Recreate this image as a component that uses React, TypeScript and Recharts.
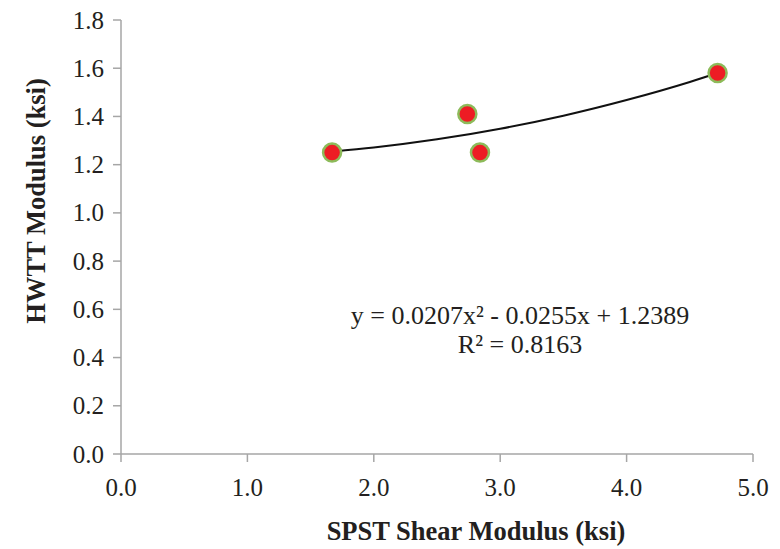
import { ComposedChart, Scatter, Line, XAxis, YAxis } from 'recharts'

// measured samples (SPST shear vs HWTT modulus, ksi)
const spstShear = [1.67, 2.74, 2.84, 4.72]
const hwttModulus = [1.25, 1.41, 1.25, 1.58]

// polynomial trendline
const trendX = [1.67, 2.0, 2.5, 3.0, 3.5, 4.0, 4.5, 4.72]
const trendY = [1.254, 1.271, 1.305, 1.349, 1.403, 1.468, 1.543, 1.58]

const xTicks = [0, 1, 2, 3, 4, 5]
const yTicks = [0, 0.2, 0.4, 0.6, 0.8, 1.0, 1.2, 1.4, 1.6, 1.8]

const equation = 'y = 0.0207x² - 0.0255x + 1.2389'
const rSquared = 'R² = 0.8163'
const xTitle = 'SPST Shear Modulus (ksi)'
const yTitle = 'HWTT Modulus (ksi)'

const points = spstShear.map((x, i) => ({ x, y: hwttModulus[i] }))
const trend = trendX.map((x, i) => ({ x, y: trendY[i] }))

const font = '"Liberation Serif", "Times New Roman", serif'
const axisGray = '#a6a6a6'
const textColor = '#231f20'

const Dot = (props: any) => (
  <circle cx={props.cx} cy={props.cy} r={9} fill="#ed1c24" stroke="#8dbb5a" strokeWidth={2.5} />
)

const renderXTick = (p: any) => (
  <g key={`xt-${p.index}`}>
    <text
      x={p.x}
      y={p.y + 14}
      dy={18}
      textAnchor="middle"
      style={{ fontFamily: font, fontSize: 25, fill: textColor }}
    >
      {Number(p.payload.value).toFixed(1)}
    </text>
  </g>
)

const renderYTick = (p: any) => (
  <g key={`yt-${p.index}`}>
    <text
      x={p.x - 7}
      y={p.y}
      dy={8.5}
      textAnchor="end"
      style={{ fontFamily: font, fontSize: 25, fill: textColor }}
    >
      {Number(p.payload.value).toFixed(1)}
    </text>
  </g>
)

export default function App() {
  return (
    <div style={{ position: 'absolute', left: 0, top: 0, width: 780, height: 549, background: '#fff', fontFamily: font }}>
      <ComposedChart
        width={780}
        height={549}
        margin={{ top: 20, right: 27, bottom: 0, left: 0 }}
      >
        <XAxis
          type="number"
          dataKey="x"
          domain={[0, 5]}
          ticks={xTicks}
          height={95}
          stroke={axisGray}
          strokeWidth={1.5}
          tickSize={8}
          tick={renderXTick}
          allowDataOverflow
        />
        <YAxis
          type="number"
          dataKey="y"
          domain={[0, 1.8]}
          ticks={yTicks}
          width={121}
          stroke={axisGray}
          strokeWidth={1.5}
          tickSize={8}
          tick={renderYTick}
          allowDataOverflow
        />
        <Scatter data={points} dataKey="y" shape={Dot} isAnimationActive={false} />
        <Line
          data={trend}
          dataKey="y"
          type="monotone"
          stroke="#111"
          strokeWidth={2}
          dot={false}
          activeDot={false}
          isAnimationActive={false}
        />
      </ComposedChart>
      <svg
        width={780}
        height={549}
        style={{ position: 'absolute', left: 0, top: 0, pointerEvents: 'none' }}
        fontFamily={font}
        fill={textColor}
      >
        <text x={520} y={324} fontSize={26} textAnchor="middle">{equation}</text>
        <text x={520} y={353} fontSize={26} textAnchor="middle">{rSquared}</text>
        <text x={476} y={540} fontSize={26.5} fontWeight="bold" textAnchor="middle">{xTitle}</text>
        <text
          x={0}
          y={0}
          fontSize={26.5}
          fontWeight="bold"
          textAnchor="middle"
          transform="translate(45, 201) rotate(-90)"
        >
          {yTitle}
        </text>
      </svg>
    </div>
  )
}
